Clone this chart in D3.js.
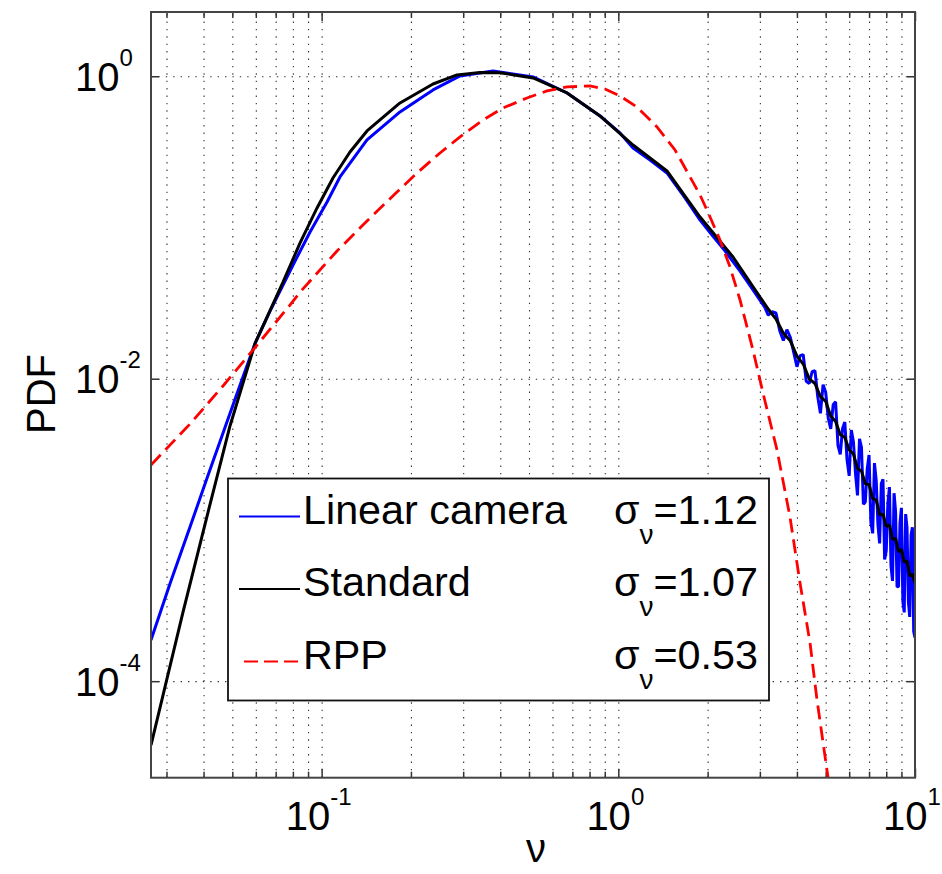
<!DOCTYPE html>
<html>
<head>
<meta charset="utf-8">
<script src="https://cdn.jsdelivr.net/npm/d3@7"></script>
<style>
  body { margin: 0; background: #fff; }
  svg { display: block; font-family: Arial, "Liberation Sans", Helvetica, sans-serif; }
  .grid line { stroke: #333; stroke-width: 1.1; stroke-dasharray: 1.4, 6; }
  .grid path, .ticks path { display: none; }
  .ticks line { stroke: #333; stroke-width: 1.5; }
</style>
</head>
<body>
<div class="container"></div>
<script>
// ---- data ----
const standardNu = [0.0266, 0.0297, 0.0341, 0.0411, 0.0491, 0.0597, 0.0741, 0.0846, 0.0965, 0.1092, 0.1246, 0.1422,
  0.1837, 0.2374, 0.286, 0.342, 0.399, 0.516, 0.672, 0.868, 1.121, 1.459, 1.886, 2.436, 3.003,
  3.2, 3.4, 3.6, 3.8, 4.0, 4.2, 4.4, 4.6, 4.8, 5.0, 5.2, 5.4, 5.6, 5.8, 6.0, 6.2, 6.4, 6.6, 6.8, 7.0,
  7.2, 7.4, 7.6, 7.8, 8.0, 8.2, 8.4, 8.6, 8.8, 9.0, 9.2, 9.4, 9.6, 9.8, 10];
const standardPdf = [3.78e-5, 9.28e-5, 2.86e-4, 1.236e-3, 4.87e-3, 0.0172, 0.0436, 0.0790, 0.1346, 0.2126, 0.3158, 0.4347,
  0.666, 0.889, 1.020, 1.059, 1.056, 0.974, 0.775, 0.546, 0.351, 0.2364, 0.1173, 0.0638, 0.0347,
  0.0289, 0.0248, 0.0200, 0.0178, 0.0141, 0.0125, 9.97e-3, 9.30e-3, 7.61e-3, 7.09e-3, 5.66e-3, 5.22e-3,
  4.26e-3, 4.10e-3, 3.38e-3, 3.19e-3, 2.54e-3, 2.46e-3, 2.02e-3, 2.00e-3, 1.61e-3, 1.58e-3, 1.26e-3,
  1.27e-3, 1.055e-3, 1.078e-3, 8.66e-4, 8.79e-4, 7.17e-4, 7.44e-4, 6.10e-4, 6.24e-4, 4.96e-4, 5.09e-4, 4.46e-4];

const cameraNu = [0.0266, 0.0308, 0.0360, 0.0411, 0.0473, 0.0531, 0.0597, 0.0670, 0.0801, 0.0914, 0.1043, 0.1153,
  0.1422, 0.1837, 0.2374, 0.2927, 0.378, 0.516, 0.672, 0.868, 1.013, 1.121, 1.279, 1.459, 1.678, 1.886,
  2.069, 2.288, 2.572, 2.822, 3.122,
  3.2, 3.3, 3.4, 3.5, 3.6, 3.7, 3.8, 3.9, 4.0, 4.1, 4.2, 4.3, 4.4, 4.5, 4.6, 4.7, 4.8, 4.9, 5.0,
  5.1, 5.2, 5.3, 5.4, 5.5, 5.6, 5.7, 5.8, 5.9, 6.0, 6.1, 6.2, 6.3, 6.4, 6.5, 6.6, 6.7, 6.8, 6.9, 7.0,
  7.1, 7.2, 7.3, 7.4, 7.5, 7.6, 7.7, 7.8, 7.9, 8.0, 8.1, 8.2, 8.3, 8.4, 8.5, 8.6, 8.7, 8.8, 8.9, 9.0,
  9.1, 9.2, 9.3, 9.4, 9.5, 9.6, 9.7, 9.8, 9.9, 10];
const cameraPdf = [1.87e-4, 4.39e-4, 1.045e-3, 2.204e-3, 4.79e-3, 9.08e-3, 0.0172, 0.0280, 0.0565, 0.0934, 0.1475, 0.2158,
  0.379, 0.581, 0.812, 1.005, 1.084, 0.989, 0.775, 0.546, 0.4217, 0.3356, 0.2795, 0.2293, 0.1567, 0.112,
  0.0892, 0.0700, 0.0515, 0.0395, 0.0295,
  0.0263, 0.0277, 0.0272, 0.0208, 0.0179, 0.0211, 0.0188, 0.0150, 0.0120, 0.0142, 0.0144, 9.61e-3, 9.30e-3,
  1.112e-2, 1.131e-2, 7.63e-3, 5.90e-3, 9.14e-3, 8.14e-3,
  5.49e-3, 4.66e-3, 6.73e-3, 7.04e-3, 3.62e-3, 3.16e-3, 4.69e-3, 5.17e-3, 2.92e-3, 2.28e-3,
  4.58e-3, 3.83e-3, 2.38e-3, 1.69e-3, 4.01e-3, 3.52e-3, 1.48e-3, 1.53e-3, 2.52e-3, 3.13e-3,
  1.126e-3, 9.49e-4, 2.77e-3, 2.13e-3, 1.084e-3, 8.15e-4, 2.03e-3, 2.16e-3, 6.37e-4, 7.30e-4,
  1.49e-3, 1.92e-3, 5.79e-4, 4.60e-4, 1.75e-3, 1.33e-3, 4.21e-4, 4.22e-4, 1.112e-3, 1.40e-3,
  3.36e-4, 2.85e-4, 1.274e-3, 1.035e-3, 3.35e-4, 2.66e-4, 9.25e-4, 1.04e-3, 2.13e-4, 1.94e-4];

const rppNu = [0.0266, 0.0360, 0.0465, 0.0606, 0.0782, 0.0846, 0.1127, 0.1422, 0.1795, 0.2097, 0.2506, 0.2927,
  0.350, 0.4087, 0.4923, 0.575, 0.672, 0.8028, 0.902, 1.013, 1.156, 1.350, 1.553, 1.745, 1.886, 2.038,
  2.202, 2.379, 2.572, 2.844, 3.074, 3.427, 3.79, 4.097, 4.428, 4.675, 5.09, 5.375];
const rppPdf = [2.69e-3, 5.02e-3, 8.95e-3, 0.0167, 0.0307, 0.0374, 0.0699, 0.1104, 0.1717, 0.2293, 0.311, 0.3968,
  0.514, 0.617, 0.7186, 0.7996, 0.850, 0.863, 0.824, 0.741, 0.6266, 0.462, 0.3255, 0.2158, 0.164, 0.1173,
  0.0826, 0.0548, 0.03315, 0.01548, 8.04e-3, 3.38e-3, 1.22e-3, 4.46e-4, 1.79e-4, 7.5e-5, 2.32e-5, 1.04e-5];

const seriesNames = ["Linear camera", "Standard", "RPP"];
const seriesColors = ["#0000ff", "#000000", "#ff0000"];
const sigmaValues = ["1.12", "1.07", "0.53"];

const xDomain = [0.0266, 10];
const yDomain = [2.3e-5, 2.66];
const xLabelExps = [-1, 0, 1];
const yLabelExps = [0, -2, -4];
const yTickValues = [1, 1e-2, 1e-4];

// ---- layout ----
const width = 942, height = 874;
const margin = {left: 151, top: 12};
const plotW = 764, plotH = 765.7;
const transl = (x, y) => `translate(${x},${y})`;

const svg = d3.select(".container").append("svg")
  .attr("width", width)
  .attr("height", height);

svg.append("rect").attr("width", width).attr("height", height).attr("fill", "#fff");

const plot = svg.append("g").attr("transform", transl(margin.left, margin.top));

const xScale = d3.scaleLog().domain(xDomain).range([0, plotW]);
const yScale = d3.scaleLog().domain(yDomain).range([plotH, 0]);

// all decade multiples inside the x domain
const xMinor = [];
[0.01, 0.1, 1].forEach(dec => {
  for (let k = 1; k <= 9; k++) {
    const v = +(dec * k).toPrecision(3);
    if (v >= xDomain[0] && v <= xDomain[1]) xMinor.push(v);
  }
});
const xMajor = [0.1, 1, 10];
const xMinorOnly = xMinor.filter(v => !xMajor.includes(v));

// grid
plot.append("g")
    .attr("class", "grid")
    .attr("transform", transl(0, plotH))
    .call(d3.axisBottom(xScale).tickValues(xMinor).tickSize(-plotH).tickFormat(""));

plot.append("g")
    .attr("class", "grid")
    .call(d3.axisLeft(yScale).tickValues(yTickValues).tickSize(-plotW).tickFormat(""));

// tick marks (inward)
const tickAxis = (axis, vals, size) => axis.tickValues(vals).tickSizeInner(-size).tickSizeOuter(0).tickFormat("");

plot.append("g").attr("class", "ticks").attr("transform", transl(0, plotH))
    .call(tickAxis(d3.axisBottom(xScale), xMinorOnly, 6));
plot.append("g").attr("class", "ticks").attr("transform", transl(0, plotH))
    .call(tickAxis(d3.axisBottom(xScale), xMajor, 9));
plot.append("g").attr("class", "ticks")
    .call(tickAxis(d3.axisTop(xScale), xMinorOnly, 6));
plot.append("g").attr("class", "ticks")
    .call(tickAxis(d3.axisTop(xScale), xMajor, 9));
plot.append("g").attr("class", "ticks")
    .call(tickAxis(d3.axisLeft(yScale), yTickValues, 8));
plot.append("g").attr("class", "ticks").attr("transform", transl(plotW, 0))
    .call(tickAxis(d3.axisRight(yScale), yTickValues, 8));

// curves
plot.append("clipPath").attr("id", "clip")
    .append("rect").attr("width", plotW).attr("height", plotH);

const line = d3.line()
  .x(d => xScale(d[0]))
  .y(d => yScale(d[1]));

const curves = plot.append("g").attr("clip-path", "url(#clip)");

curves.append("path")
      .datum(d3.zip(cameraNu, cameraPdf))
      .attr("d", line)
      .attr("fill", "none")
      .attr("stroke", seriesColors[0])
      .attr("stroke-width", 3)
      .attr("stroke-linejoin", "bevel");

curves.append("path")
      .datum(d3.zip(standardNu, standardPdf))
      .attr("d", line)
      .attr("fill", "none")
      .attr("stroke", seriesColors[1])
      .attr("stroke-width", 3)
      .attr("stroke-linejoin", "bevel");

curves.append("path")
      .datum(d3.zip(rppNu, rppPdf))
      .attr("d", line)
      .attr("fill", "none")
      .attr("stroke", seriesColors[2])
      .attr("stroke-width", 2.8)
      .attr("stroke-dasharray", "14,7");

// frame
plot.append("rect")
    .attr("width", plotW)
    .attr("height", plotH)
    .attr("fill", "none")
    .attr("stroke", "#444")
    .attr("stroke-width", 2);

// x tick labels, the whole "10^n" centred on the tick
xLabelExps.forEach(e => {
  const t = svg.append("text")
     .attr("x", margin.left + xScale(Math.pow(10, e)) - 3)
     .attr("y", 830)
     .attr("text-anchor", "middle")
     .attr("font-size", 40)
     .attr("fill", "#000");
  t.append("tspan").text("10");
  t.append("tspan").attr("dy", -25).attr("font-size", 24).text(e < 0 ? "-" + (-e) : String(e));
});

// y tick labels, "10" right edge fixed, exponent after it
yLabelExps.forEach(e => {
  const yy = margin.top + yScale(Math.pow(10, e)) + 14.5;
  const t = svg.append("text")
     .attr("x", 75)
     .attr("y", yy)
     .attr("font-size", 40)
     .attr("fill", "#000");
  t.append("tspan").text("10");
  t.append("tspan").attr("dy", -25).attr("font-size", 24).text(e < 0 ? "-" + (-e) : String(e));
});

// axis titles
svg.append("text")
   .attr("x", 536)
   .attr("y", 862)
   .attr("text-anchor", "middle")
   .attr("font-size", 40)
   .text("ν");

svg.append("text")
   .attr("transform", transl(55, 394) + " rotate(-90)")
   .attr("text-anchor", "middle")
   .attr("font-size", 40)
   .text("PDF");

// legend
const legend = svg.append("g").attr("class", "legend");
legend.append("rect")
      .attr("x", 228)
      .attr("y", 478.5)
      .attr("width", 541)
      .attr("height", 222)
      .attr("fill", "#fff")
      .attr("stroke", "#111")
      .attr("stroke-width", 1.8);

seriesNames.forEach((name, i) => {
  const base = 523.5 + i * 72.5;
  legend.append("line")
        .attr("x1", i === 2 ? 244 : 239)
        .attr("x2", 300)
        .attr("y1", base - 7)
        .attr("y2", base - 7)
        .attr("stroke", seriesColors[i])
        .attr("stroke-width", 2)
        .attr("stroke-dasharray", i === 2 ? "14,6" : null);

  legend.append("text")
        .attr("x", 303)
        .attr("y", base)
        .attr("font-size", 41.3)
        .text(name);

  const s = legend.append("text")
        .attr("x", 614)
        .attr("y", base)
        .attr("font-size", 41.3);
  s.append("tspan").text("σ");
  s.append("tspan").attr("dy", 20).attr("font-size", 28).text("ν");
  s.append("tspan").attr("dy", -20).text("=" + sigmaValues[i]);
});
</script>
</body>
</html>
